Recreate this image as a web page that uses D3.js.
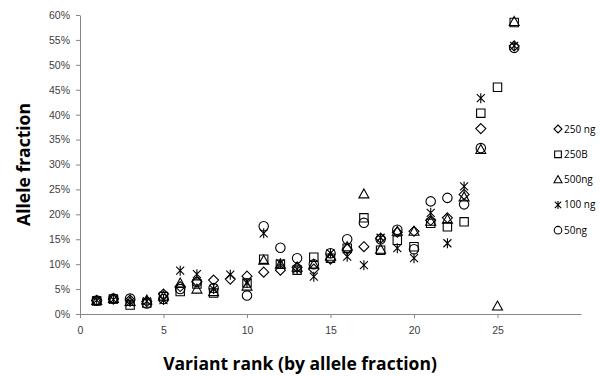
<!DOCTYPE html>
<html>
<head>
<meta charset="utf-8">
<script src="https://cdn.jsdelivr.net/npm/d3@7"></script>
<style>
  body { margin: 0; background: #fff; }
  svg { font-family: "Open Sans", "DejaVu Sans", sans-serif; }
</style>
</head>
<body>
<div id="chart"></div>
<script>
// variant rank (x) and allele fraction (%) per sample; null = no point
const ranks = d3.range(1, 27);
const ng250 = [2.7, 3.0, 2.8, 2.5, 4.0, 5.5, 6.5, 6.8, 7.0, 7.6, 8.4, 8.8, 9.4, 9.0, 11.0, 13.0, 13.5, 15.2, 16.4, 16.6, 18.8, 19.3, 24.0, 37.2, null, 53.8];
const ng250B = [2.6, 3.0, 1.8, 2.2, 3.5, 4.5, 6.0, 4.2, null, 6.2, 11.0, 10.0, 8.8, 11.4, 11.2, 13.2, 19.3, 12.8, 14.8, 13.5, 18.2, 17.5, 18.5, 40.3, 45.5, 58.5];
const ng500 = [2.7, 3.1, 2.5, 2.8, 3.6, 6.2, 5.0, 4.5, null, 5.6, 10.8, 10.0, 9.4, 10.0, 11.6, 13.5, 24.1, 13.0, 16.6, 16.6, 18.6, 19.0, 23.5, 33.0, 1.6, 58.7];
const ng100 = [2.8, 2.9, 2.4, 2.6, 2.8, 8.7, 8.0, 5.0, 7.9, 6.2, 16.2, 10.2, 9.0, 7.5, 12.2, 11.5, 9.8, 15.3, 13.2, 11.2, 20.3, 14.2, 25.6, 43.3, null, 53.8];
const ng50 = [2.7, 3.1, 3.1, 2.1, 3.0, 5.0, 6.4, 5.2, null, 3.7, 17.6, 13.3, 11.2, 10.0, 12.2, 15.0, 18.3, 15.0, 16.9, 13.0, 22.6, 23.3, 22.0, 33.3, null, 53.4];

const seriesNames = ['250 ng', '250B', '500ng', '100 ng', '50ng'];
const seriesValues = [ng250, ng250B, ng500, ng100, ng50];
const seriesShapes = ['diamond', 'square', 'triangle', 'star', 'circle'];

const xTicks = [0, 5, 10, 15, 20, 25];
const yTicks = d3.range(0, 61, 5);

const width = 600, height = 376;
const margin = {top: 15, right: 20, bottom: 62, left: 80};

const svg = d3.select('#chart').append('svg')
    .attr('width', width)
    .attr('height', height);

const x = d3.scaleLinear().domain([0, 30]).range([margin.left, 581]);
const y = d3.scaleLinear().domain([0, 60]).range([height - margin.bottom, margin.top]);

// marker path generator
function marker(shape, s) {
    s = s || 1;
    if (shape === 'diamond') return 'M0,' + (-5 * s) + 'L' + (5 * s) + ',0L0,' + (5 * s) + 'L' + (-5 * s) + ',0Z';
    if (shape === 'square') return 'M' + (-4.2 * s) + ',' + (-4.2 * s) + 'H' + (4.2 * s) + 'V' + (4.2 * s) + 'H' + (-4.2 * s) + 'Z';
    if (shape === 'triangle') return 'M0,' + (-5 * s) + 'L' + (5 * s) + ',' + (4 * s) + 'H' + (-5 * s) + 'Z';
    if (shape === 'circle') return d3.symbol(d3.symbolCircle, 70 * s * s)();
    // star: asterisk (X with vertical bar)
    return 'M' + (-4 * s) + ',' + (-4 * s) + 'L' + (4 * s) + ',' + (4 * s) + 'M' + (-4 * s) + ',' + (4 * s) + 'L' + (4 * s) + ',' + (-4 * s) + 'M0,' + (-5 * s) + 'V' + (5 * s);
}

// axes
const xAxis = svg.append('g')
    .attr('transform', 'translate(0,' + y(0) + ')')
    .call(d3.axisBottom(x).tickValues(xTicks).tickSizeInner(4).tickSizeOuter(0).tickPadding(9));
xAxis.select('.domain').attr('stroke', '#868686');
xAxis.selectAll('line').attr('stroke', '#868686');
xAxis.selectAll('text').attr('fill', '#404040').style('font-size', '10.5px');

const yAxis = svg.append('g')
    .attr('transform', 'translate(' + x(0) + ',0)')
    .call(d3.axisLeft(y).tickValues(yTicks).tickFormat((d) => d + '%').tickSizeInner(4).tickSizeOuter(0).tickPadding(6));
yAxis.select('.domain').attr('stroke', '#868686');
yAxis.selectAll('line').attr('stroke', '#868686');
yAxis.selectAll('text').attr('fill', '#404040').style('font-size', '10.5px');

// points
seriesValues.forEach(function(vals, i) {
    const pts = ranks.map((r, j) => ({r: r, v: vals[j]})).filter((d) => d.v !== null);
    svg.append('g').selectAll('path')
        .data(pts)
        .enter().append('path')
            .attr('transform', (d) => 'translate(' + x(d.r) + ',' + y(d.v) + ')')
            .attr('d', marker(seriesShapes[i]))
            .attr('fill', 'none')
            .attr('stroke', '#000')
            .attr('stroke-width', 1.1);
});

// legend
const legend = svg.append('g').attr('transform', 'translate(558,129)');
seriesNames.forEach(function(name, i) {
    const g = legend.append('g').attr('transform', 'translate(0,' + (i * 25.3) + ')');
    g.append('path')
        .attr('d', marker(seriesShapes[i], 0.8))
        .attr('fill', 'none')
        .attr('stroke', '#000')
        .attr('stroke-width', 1.1);
    g.append('text')
        .attr('x', 6)
        .attr('dy', '0.35em')
        .attr('fill', '#000')
        .style('font-size', '10px')
        .text(name);
});

// axis titles
svg.append('text')
    .attr('transform', 'translate(30,' + ((y(0) + y(60)) / 2) + ') rotate(-90)')
    .attr('text-anchor', 'middle')
    .style('font-size', '17.5px')
    .style('font-weight', 'bold')
    .text('Allele fraction');

svg.append('text')
    .attr('x', 300)
    .attr('y', 370)
    .attr('text-anchor', 'middle')
    .style('font-size', '17.5px')
    .style('font-weight', 'bold')
    .text('Variant rank (by allele fraction)');
</script>
</body>
</html>
